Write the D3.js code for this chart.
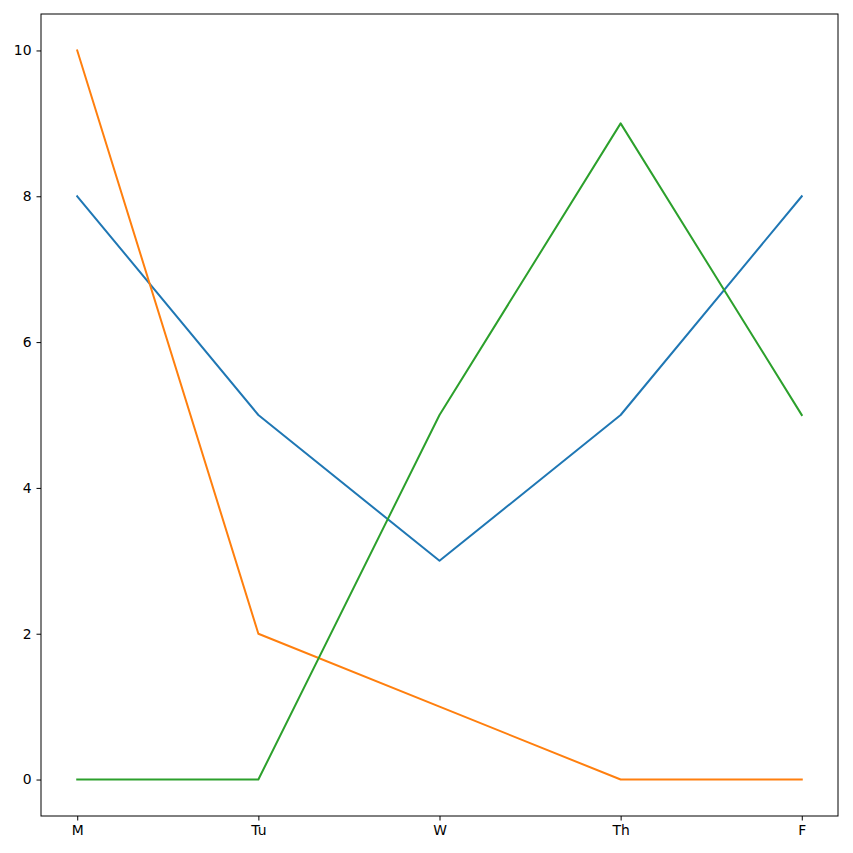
<!DOCTYPE html>
<html>
<head>
<meta charset="utf-8">
<script src="https://cdn.jsdelivr.net/npm/d3@7"></script>
<style>
  body { margin: 0; background: #fff; }
  text { font-family: "DejaVu Sans", sans-serif; }
</style>
</head>
<body>
<script>
// days along the x axis
var days = ["M", "Tu", "W", "Th", "F"];

// one array per line
var blueSeries = [8, 5, 3, 5, 8];
var orangeSeries = [10, 2, 1, 0, 0];
var greenSeries = [0, 0, 5, 9, 5];

var yTicks = [0, 2, 4, 6, 8, 10];

var width = 853, height = 853;
var plotLeft = 41, plotRight = 838, plotTop = 14, plotBottom = 816;

var svg = d3.select("body").append("svg")
    .attr("width", width)
    .attr("height", height);

var x = d3.scaleLinear().domain([-0.2, 4.2]).range([plotLeft, plotRight]);
var y = d3.scaleLinear().domain([-0.5, 10.5]).range([plotBottom, plotTop]);

var series = [
  { values: blueSeries, color: "#1f77b4" },
  { values: orangeSeries, color: "#ff7f0e" },
  { values: greenSeries, color: "#2ca02c" }
];

var line = d3.line()
    .x(function(d, i) { return x(i); })
    .y(function(d) { return y(d); });

svg.selectAll("path.series")
  .data(series)
  .enter()
    .append("path")
    .attr("class", "series")
    .attr("d", function(s) { return line(s.values); })
    .attr("fill", "none")
    .attr("stroke", function(s) { return s.color; })
    .attr("stroke-width", 2)
    .attr("stroke-linejoin", "round")
    .attr("stroke-linecap", "square");

// axes
var xAxis = d3.axisBottom(x)
    .tickValues(d3.range(days.length))
    .tickFormat(function(i) { return days[i]; })
    .tickSize(4.5)
    .tickPadding(5);

var yAxis = d3.axisLeft(y)
    .tickValues(yTicks)
    .tickSize(4.5)
    .tickPadding(5);

var gx = svg.append("g")
    .attr("transform", "translate(0," + plotBottom + ")")
    .call(xAxis);
var gy = svg.append("g")
    .attr("transform", "translate(" + plotLeft + ",0)")
    .call(yAxis);

[gx, gy].forEach(function(g) {
  g.select(".domain").remove();
  g.selectAll("line").attr("stroke", "#000").attr("stroke-width", 1);
  g.selectAll("text")
    .attr("fill", "#000")
    .style("font-size", "13.9px")
    .style("font-family", "DejaVu Sans, sans-serif");
});

// frame
svg.append("rect")
    .attr("x", plotLeft)
    .attr("y", plotTop)
    .attr("width", plotRight - plotLeft)
    .attr("height", plotBottom - plotTop)
    .attr("fill", "none")
    .attr("stroke", "#000")
    .attr("stroke-width", 1);
</script>
</body>
</html>
